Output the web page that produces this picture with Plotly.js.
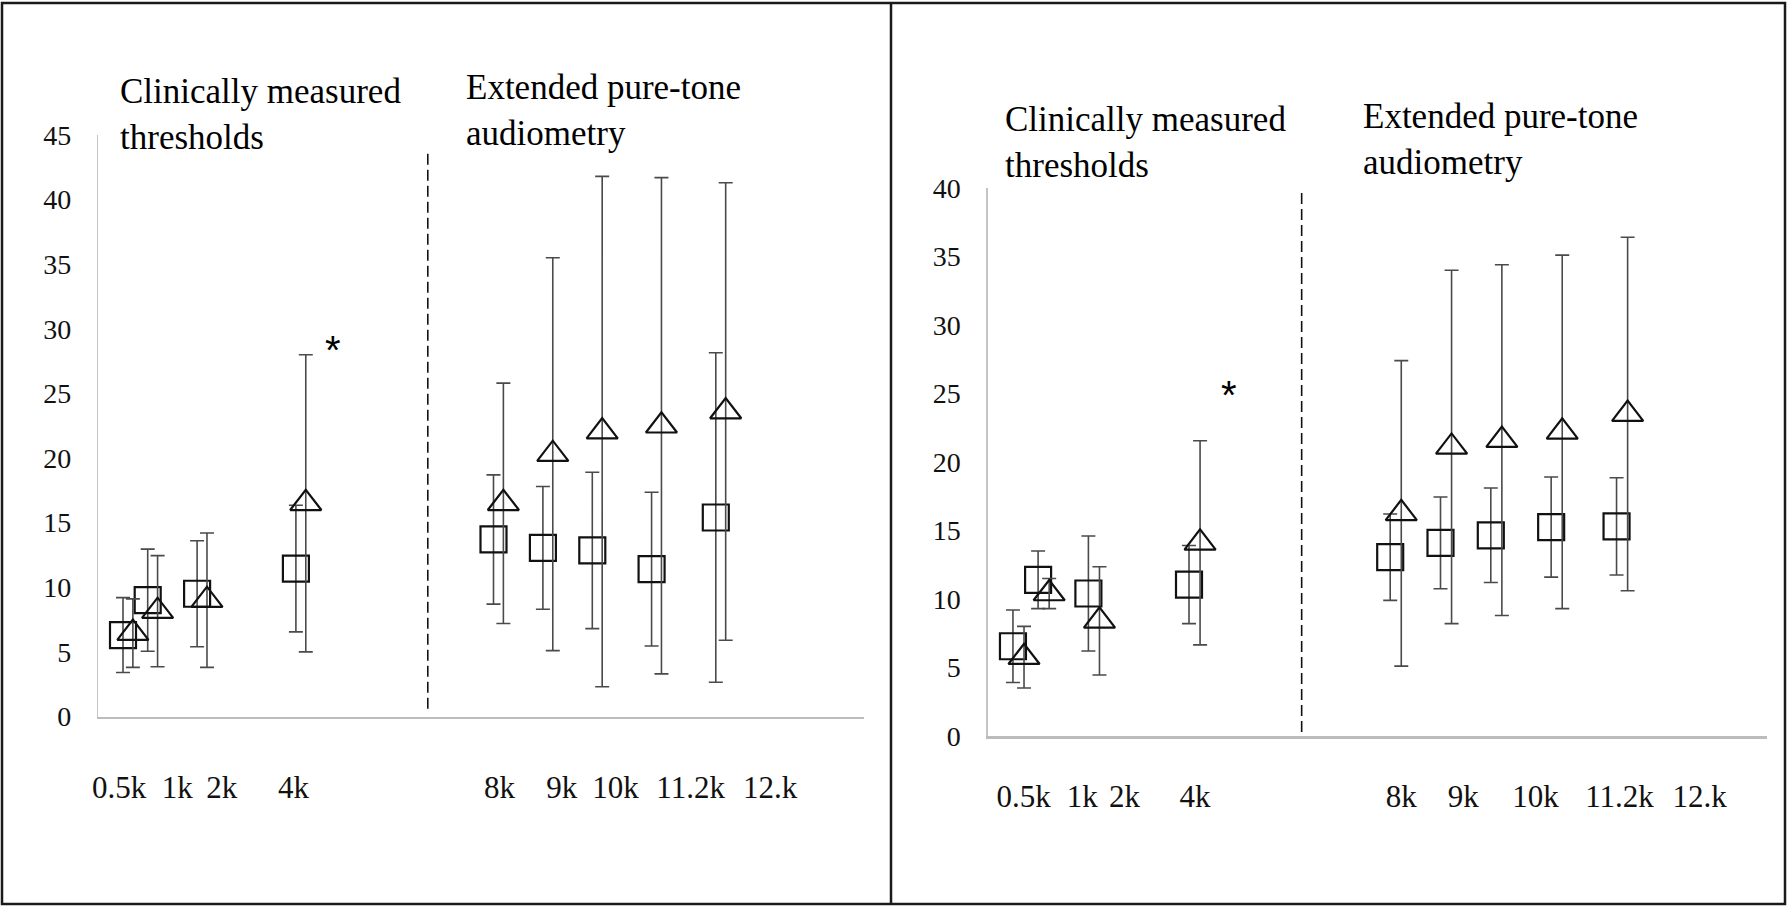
<!DOCTYPE html>
<html>
<head>
<meta charset="utf-8">
<script src="https://cdn.plot.ly/plotly-3.0.1.min.js"></script>
<style>
  html, body { margin: 0; padding: 0; background: #ffffff; }
  #chart { width: 1787px; height: 907px; }
</style>
</head>
<body>
<div id="chart"></div>
<script>
// ---------------- DATA ----------------
const freqsKHz = [0.5, 1, 2, 4, 8, 9, 10, 11.2, 12.5];
const freqLabels = ['0.5k', '1k', '2k', '4k', '8k', '9k', '10k', '11.2k', '12.k'];

// Left panel (y axis 0-45)
const leftSquareMean = [6.3, 9.0, 9.5, 11.45, 13.7, 13.05, 12.85, 11.4, 15.4];
const leftSquareSD   = [2.9, 3.95, 4.1, 4.9, 5.0, 4.75, 6.05, 5.95, 12.75];
const leftTriMean    = [6.45, 8.15, 9.0, 16.5, 16.5, 20.3, 22.05, 22.5, 23.6];
const leftTriSD      = [2.65, 4.3, 5.2, 11.5, 9.3, 15.2, 19.75, 19.2, 17.7];

// Right panel (y axis 0-40)
const rightSquareMean = [6.55, 11.4, 10.4, 11.05, 13.05, 14.1, 14.65, 15.25, 15.3];
const rightSquareSD   = [2.65, 2.1, 4.2, 2.85, 3.15, 3.35, 3.45, 3.65, 3.55];
const rightTriMean    = [5.75, 10.4, 8.4, 14.1, 16.25, 21.1, 21.6, 22.2, 23.5];
const rightTriSD      = [2.25, 1.1, 3.95, 7.45, 11.15, 12.9, 12.8, 12.9, 12.9];

const sectionTitles = ['Clinically measured<br>thresholds', 'Extended pure-tone<br>audiometry'];
const significanceMark = '*';

// ---------------- LAYOUT CONSTANTS ----------------
const W = 1787, H = 907;
const px = x => x / W;
const py = y => 1 - y / H;
const SERIF = "'Liberation Serif', 'Times New Roman', Times, serif";

// tick-label placement (in kHz units along each panel's axis), as in the typed label row
const leftLabelPos  = [0.42, 1.60, 2.50, 3.95, 8.12, 9.38, 10.47, 11.99, 13.60];
const rightLabelPos = [0.71, 1.88, 2.72, 4.12, 8.22, 9.45, 10.89, 12.56, 14.15];
const leftTriOffset = 0.2, rightTriOffset = 0.22;

const errColor = '#4a4a4a';
function seriesTrace(x, y, sd, symbol, xa, ya, offset, name) {
  return {
    type: 'scatter', mode: 'markers', name: name,
    x: x.map(v => v + offset), y: y,
    xaxis: xa, yaxis: ya,
    marker: { symbol: symbol, size: symbol.indexOf('triangle') === 0 ? 27 : 26,
              color: '#111111', line: { color: '#111111', width: 2.2 } },
    error_y: { type: 'data', array: sd, symmetric: true, visible: true,
               color: errColor, thickness: 1.6, width: 7 },
    showlegend: false, hoverinfo: 'x+y'
  };
}

const traces = [
  seriesTrace(freqsKHz, leftSquareMean, leftSquareSD, 'square-open', 'x', 'y', 0, 'Group 1'),
  seriesTrace(freqsKHz, leftTriMean, leftTriSD, 'triangle-up-open', 'x', 'y', leftTriOffset, 'Group 2'),
  seriesTrace(freqsKHz, rightSquareMean, rightSquareSD, 'square-open', 'x2', 'y2', 0, 'Group 1'),
  seriesTrace(freqsKHz, rightTriMean, rightTriSD, 'triangle-up-open', 'x2', 'y2', rightTriOffset, 'Group 2')
];

function xAxis(domain, labelPos, standoff) {
  return {
    domain: domain, range: [0, 15.5], fixedrange: true,
    showgrid: false, zeroline: false,
    showline: true, linecolor: '#bcbcbc', linewidth: 2.5,
    tickmode: 'array', tickvals: labelPos, ticktext: freqLabels,
    ticks: '', ticklabelstandoff: standoff,
    tickfont: { family: SERIF, size: 31, color: '#111111' }
  };
}
function yAxis(domain, max, anchor, standoff) {
  return {
    domain: domain, range: [0, max], fixedrange: true, anchor: anchor,
    dtick: 5, tick0: 0,
    showgrid: false, zeroline: false,
    showline: true, linecolor: '#c4c4c4', linewidth: 1.5,
    ticks: '', ticklabelstandoff: standoff,
    tickfont: { family: SERIF, size: 28, color: '#111111' }
  };
}

const textFont = { family: SERIF, size: 35, color: '#000000' };
function titleNote(text, xPix, yPix) {
  return { text: text, xref: 'paper', yref: 'paper', x: px(xPix), y: py(yPix),
           xanchor: 'left', yanchor: 'middle', align: 'left', showarrow: false, font: textFont };
}
function starNote(xPix, yPix) {
  return { text: significanceMark, xref: 'paper', yref: 'paper', x: px(xPix), y: py(yPix),
           xanchor: 'center', yanchor: 'middle', showarrow: false,
           font: { family: "'Liberation Sans', Arial, sans-serif", size: 40, color: '#000000' } };
}

const layout = {
  width: W, height: H,
  margin: { l: 0, r: 0, t: 0, b: 0, pad: 0 },
  paper_bgcolor: '#ffffff', plot_bgcolor: 'rgba(0,0,0,0)',
  showlegend: false,
  xaxis:  Object.assign(xAxis([px(98.3), px(98.3 + 15.5 * 49.4)], leftLabelPos, 42), { anchor: 'y' }),
  yaxis:  yAxis([1 - 716.5 / H, 1 - 135 / H], 45, 'x', 20),
  xaxis2: Object.assign(xAxis([px(987.8), px(987.8 + 15.5 * 50.3)], rightLabelPos, 31), { anchor: 'y2' }),
  yaxis2: yAxis([1 - 736 / H, 1 - 188 / H], 40, 'x2', 20),
  annotations: [
    titleNote(sectionTitles[0], 118, 114.5),
    titleNote(sectionTitles[1], 464, 110),
    titleNote(sectionTitles[0], 1003, 142),
    titleNote(sectionTitles[1], 1361, 139.5),
    starNote(333, 350),
    starNote(1229, 395)
  ],
  shapes: [
    // section dividers (dashed), in each panel's data coordinates
    { type: 'line', xref: 'x', yref: 'y', x0: 6.67, x1: 6.67, y0: 0.6, y1: 43.8,
      line: { color: '#111111', width: 1.6, dash: '11px,5px' } },
    { type: 'line', xref: 'x2', yref: 'y2', x0: 6.24, x1: 6.24, y0: 0.3, y1: 41.2,
      line: { color: '#111111', width: 1.6, dash: '11px,5px' } },
    // outer frame and panel divider
    { type: 'rect', xref: 'paper', yref: 'paper', x0: px(2), x1: px(1785), y0: py(904), y1: py(3),
      line: { color: '#1a1a1a', width: 2.5 }, fillcolor: 'rgba(0,0,0,0)' },
    { type: 'line', xref: 'paper', yref: 'paper', x0: px(891), x1: px(891), y0: py(904), y1: py(3),
      line: { color: '#1a1a1a', width: 2.5 } }
  ]
};

Plotly.newPlot('chart', traces, layout, { staticPlot: true, displayModeBar: false });
</script>
</body>
</html>
